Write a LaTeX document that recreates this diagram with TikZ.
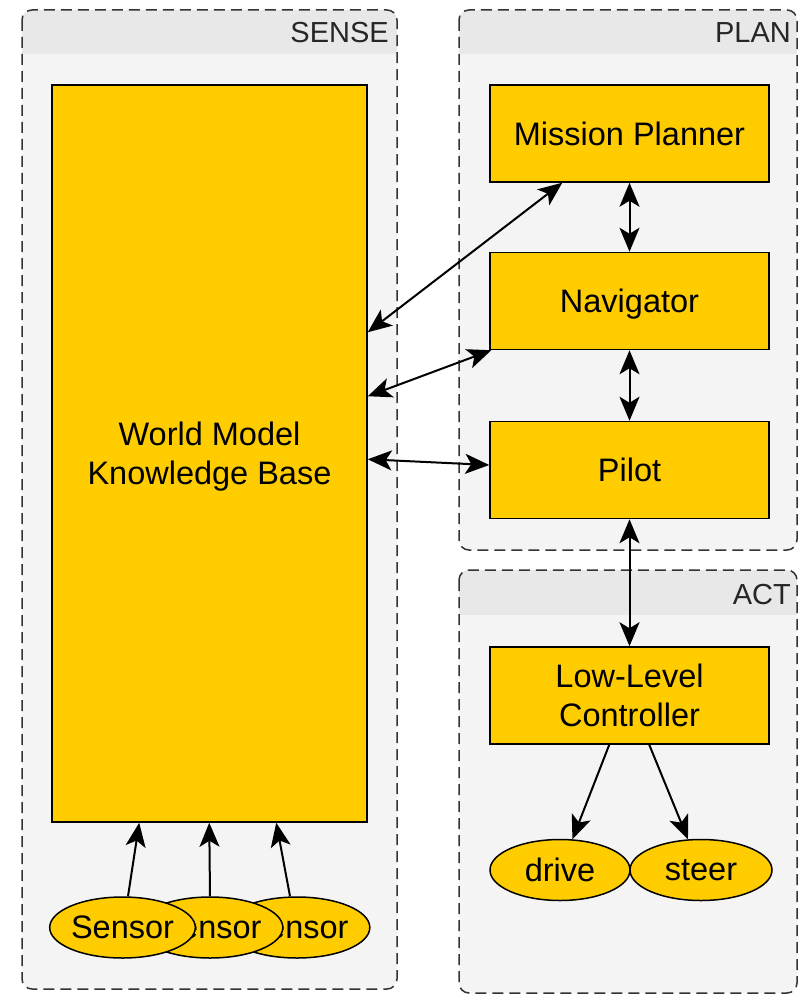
\documentclass[tikz,border=0pt]{standalone}
\usepackage{fontspec}
\setmainfont{Liberation Sans}
\usetikzlibrary{shapes.geometric,arrows.meta}
\definecolor{boxfill}{HTML}{FFCC00}
\definecolor{clfill}{HTML}{F4F4F4}
\definecolor{hdrfill}{HTML}{E8E8E8}
\definecolor{clborder}{HTML}{333333}
\tikzset{
  box/.style={draw=black, line width=1.5pt, fill=boxfill, rectangle, minimum width=279pt, minimum height=97pt, inner sep=0pt, align=center, font=\fontsize{32.5}{39}\selectfont, text depth=-4pt},
  oval/.style={draw=black, line width=1.5pt, fill=boxfill, ellipse, minimum width=140pt, minimum height=61pt, inner sep=0pt, font=\fontsize{32.5}{39}\selectfont},
  conn/.style={line width=2pt, -{Stealth[length=24pt,width=20pt,inset=6pt]}},
  biconn/.style={line width=2pt, {Stealth[length=24pt,width=20pt,inset=6pt]}-{Stealth[length=24pt,width=20pt,inset=6pt]}},
  clborderstyle/.style={draw=clborder, line width=1.5pt, dash pattern=on 11pt off 6pt, rounded corners=10pt},
  cllabel/.style={anchor=base east, inner sep=0pt, font=\fontsize{29}{35}\selectfont, text=black!85}
}
\begin{document}
\begin{tikzpicture}[x=1pt,y=-1pt]
\useasboundingbox (0,0) rectangle (799,995);
% clusters
\fill[clfill, rounded corners=10pt] (22,10) rectangle (397,989);
\begin{scope}
  \clip[rounded corners=10pt] (22,10) rectangle (397,989);
  \fill[hdrfill] (22,10) rectangle (397,54);
\end{scope}
\draw[clborderstyle] (22,10) rectangle (397,989);
\node[cllabel] (lsense) at (389,43) {SENSE};

\fill[clfill, rounded corners=10pt] (459,10) rectangle (797,550);
\begin{scope}
  \clip[rounded corners=10pt] (459,10) rectangle (797,550);
  \fill[hdrfill] (459,10) rectangle (797,54);
\end{scope}
\draw[clborderstyle] (459,10) rectangle (797,550);
\node[cllabel] (lplan) at (791,43) {PLAN};

\fill[clfill, rounded corners=10pt] (459,570) rectangle (797,993);
\begin{scope}
  \clip[rounded corners=10pt] (459,570) rectangle (797,993);
  \fill[hdrfill] (459,570) rectangle (797,615);
\end{scope}
\draw[clborderstyle] (459,570) rectangle (797,993);
\node[cllabel] (lact) at (791,604) {ACT};

% nodes
\node[box, minimum width=315pt, minimum height=737pt] (world) at (209.5,453.5) {World Model\\Knowledge Base};
\node[box] (mission) at (629.5,133.5) {Mission Planner};
\node[box] (nav) at (629.5,301) {Navigator};
\node[box] (pilot) at (629.5,470) {Pilot};
\node[box] (llc) at (629.5,695.5) {Low-Level\\Controller};
\node[oval] (drive) at (560,870) {drive};
\node[oval, minimum width=142pt] (steer) at (701,870) {steer};
\node[oval] (s3) at (297,927.5) {Sensor};
\node[oval] (s2) at (210,927.5) {Sensor};
\node[oval] (s1) at (122.5,927.5) {Sensor};

% connectors
\draw[biconn] ([yshift=-248pt]world.north east) -- ([xshift=73pt]mission.south west);
\draw[biconn] ([yshift=-312pt]world.north east) -- ([xshift=2pt]nav.south west);
\draw[biconn] ([yshift=-375pt]world.north east) -- ([yshift=5pt]pilot.west);
\draw[biconn] (mission.south) -- (nav.north);
\draw[biconn] (nav.south) -- (pilot.north);
\draw[biconn] (pilot.south) -- (llc.north);
\draw[conn] ([xshift=120pt]llc.south west) -- (drive.68);
\draw[conn] ([xshift=160pt]llc.south west) -- (steer.113);
\draw[conn] ([xshift=5.5pt]s1.north) -- ([xshift=88pt]world.south west);
\draw[conn] (s2.north) -- ([xshift=158pt]world.south west);
\draw[conn] ([xshift=-7pt]s3.north) -- ([xshift=225pt]world.south west);
\end{tikzpicture}
\end{document}
